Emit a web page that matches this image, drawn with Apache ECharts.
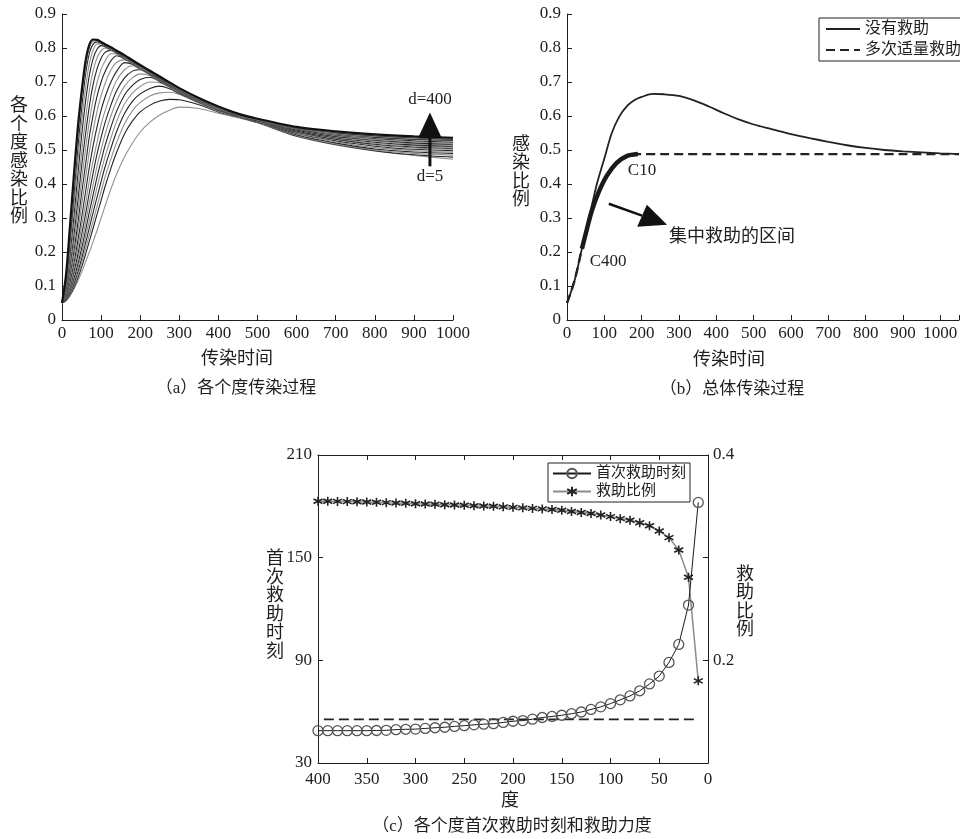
<!DOCTYPE html>
<html><head><meta charset="utf-8">
<script src="https://cdn.jsdelivr.net/npm/echarts/dist/echarts.min.js"></script>
<style>html,body{margin:0;padding:0;background:#fff}#c{width:960px;height:839px}</style>
</head><body><div id="c"></div>
<script>
// ---------- (a) infection ratio of each degree ----------
const timeGrid = [0,10,20,30,40,50,60,70,80,90,100,110,125,140,160,180,200,225,250,275,300,350,400,450,500,600,700,800,900,1000];
const degreeNames = ['d=400','d=350','d=300','d=260','d=220','d=190','d=160','d=140','d=120','d=100','d=85','d=70','d=60','d=50','d=40','d=30','d=22','d=15','d=10','d=5'];
const degreeCurves = [
 [0.05,0.13,0.27,0.42,0.56,0.67,0.76,0.81,0.825,0.824,0.818,0.811,0.802,0.792,0.779,0.764,0.750,0.733,0.716,0.699,0.682,0.653,0.628,0.607,0.592,0.568,0.555,0.546,0.540,0.536],
 [0.05,0.12,0.25,0.39,0.53,0.65,0.74,0.80,0.82,0.821,0.816,0.810,0.801,0.791,0.778,0.763,0.749,0.732,0.715,0.698,0.681,0.652,0.627,0.607,0.591,0.567,0.553,0.544,0.538,0.534],
 [0.05,0.11,0.23,0.36,0.50,0.62,0.72,0.785,0.812,0.818,0.814,0.808,0.800,0.790,0.777,0.762,0.748,0.731,0.714,0.697,0.681,0.652,0.627,0.606,0.591,0.566,0.551,0.542,0.536,0.532],
 [0.05,0.10,0.21,0.33,0.46,0.58,0.68,0.755,0.795,0.812,0.812,0.806,0.798,0.789,0.776,0.761,0.747,0.730,0.713,0.697,0.680,0.651,0.626,0.606,0.590,0.565,0.549,0.540,0.534,0.530],
 [0.05,0.095,0.19,0.30,0.42,0.54,0.64,0.72,0.77,0.797,0.807,0.804,0.796,0.787,0.774,0.760,0.746,0.729,0.712,0.696,0.680,0.651,0.626,0.606,0.590,0.564,0.548,0.538,0.532,0.528],
 [0.05,0.09,0.17,0.27,0.38,0.49,0.59,0.675,0.735,0.772,0.792,0.800,0.794,0.785,0.772,0.758,0.744,0.728,0.711,0.695,0.679,0.650,0.625,0.605,0.589,0.563,0.546,0.536,0.530,0.526],
 [0.05,0.085,0.155,0.245,0.345,0.45,0.545,0.63,0.695,0.74,0.77,0.787,0.793,0.784,0.771,0.757,0.743,0.727,0.710,0.694,0.678,0.650,0.625,0.605,0.589,0.562,0.544,0.534,0.527,0.523],
 [0.05,0.08,0.14,0.22,0.31,0.41,0.50,0.585,0.65,0.70,0.737,0.762,0.783,0.783,0.770,0.756,0.742,0.726,0.709,0.693,0.677,0.649,0.624,0.604,0.588,0.561,0.542,0.531,0.524,0.520],
 [0.05,0.078,0.13,0.20,0.28,0.37,0.455,0.54,0.605,0.66,0.70,0.73,0.762,0.777,0.768,0.755,0.741,0.725,0.708,0.692,0.676,0.648,0.624,0.604,0.588,0.559,0.540,0.529,0.521,0.517],
 [0.05,0.075,0.12,0.18,0.255,0.335,0.415,0.495,0.56,0.615,0.66,0.695,0.735,0.758,0.765,0.754,0.740,0.724,0.707,0.691,0.675,0.647,0.623,0.604,0.588,0.558,0.538,0.526,0.518,0.514],
 [0.05,0.072,0.11,0.165,0.23,0.30,0.375,0.45,0.515,0.57,0.617,0.655,0.70,0.732,0.757,0.752,0.739,0.723,0.706,0.690,0.674,0.646,0.622,0.603,0.587,0.556,0.536,0.523,0.515,0.511],
 [0.05,0.07,0.10,0.15,0.21,0.275,0.34,0.41,0.47,0.525,0.575,0.615,0.665,0.705,0.736,0.748,0.737,0.722,0.705,0.689,0.673,0.645,0.621,0.603,0.587,0.555,0.534,0.520,0.512,0.508],
 [0.05,0.068,0.095,0.14,0.19,0.25,0.31,0.375,0.435,0.49,0.537,0.58,0.632,0.675,0.712,0.732,0.736,0.721,0.704,0.688,0.672,0.644,0.620,0.602,0.586,0.553,0.532,0.517,0.509,0.505],
 [0.05,0.066,0.09,0.13,0.175,0.228,0.285,0.345,0.40,0.455,0.50,0.545,0.60,0.645,0.688,0.712,0.724,0.719,0.703,0.687,0.671,0.643,0.619,0.601,0.585,0.551,0.530,0.514,0.506,0.502],
 [0.05,0.064,0.087,0.12,0.162,0.21,0.262,0.318,0.37,0.422,0.468,0.512,0.567,0.615,0.662,0.69,0.707,0.714,0.701,0.686,0.670,0.642,0.618,0.600,0.584,0.549,0.527,0.511,0.502,0.498],
 [0.05,0.062,0.083,0.112,0.15,0.195,0.243,0.293,0.343,0.392,0.437,0.48,0.535,0.585,0.635,0.667,0.687,0.700,0.698,0.684,0.668,0.641,0.617,0.600,0.584,0.547,0.524,0.507,0.498,0.494],
 [0.05,0.06,0.08,0.105,0.14,0.18,0.225,0.272,0.318,0.363,0.407,0.45,0.505,0.555,0.607,0.643,0.665,0.681,0.688,0.680,0.666,0.640,0.616,0.599,0.583,0.545,0.521,0.503,0.494,0.490],
 [0.05,0.058,0.076,0.10,0.13,0.167,0.208,0.25,0.293,0.336,0.378,0.42,0.474,0.523,0.577,0.615,0.64,0.659,0.668,0.670,0.663,0.638,0.614,0.598,0.582,0.543,0.518,0.500,0.490,0.485],
 [0.05,0.057,0.073,0.095,0.122,0.155,0.192,0.232,0.272,0.312,0.352,0.392,0.446,0.494,0.548,0.585,0.612,0.632,0.644,0.649,0.648,0.633,0.612,0.597,0.581,0.541,0.516,0.498,0.486,0.479],
 [0.05,0.056,0.07,0.09,0.113,0.14,0.17,0.20,0.232,0.265,0.30,0.335,0.385,0.43,0.48,0.52,0.553,0.582,0.603,0.617,0.626,0.622,0.608,0.595,0.580,0.540,0.515,0.497,0.484,0.473]
];

// ---------- (b) overall infection ----------
const overallTime = [0,20,40,60,80,100,120,140,160,180,200,230,260,300,340,380,420,460,500,550,600,650,700,750,800,850,900,950,1000,1050];
const noRescue = [0.05,0.115,0.21,0.305,0.40,0.475,0.55,0.598,0.628,0.646,0.656,0.665,0.664,0.659,0.646,0.628,0.608,0.59,0.575,0.561,0.547,0.535,0.524,0.514,0.506,0.500,0.496,0.493,0.490,0.488];
const multiRescueTime = [0,20,40,53,66,84,106,133,160,190,1050];
const multiRescue = [0.05,0.115,0.21,0.266,0.32,0.374,0.423,0.462,0.482,0.488,0.488];
const focusStart = 40, focusEnd = 190;

// ---------- (c) first rescue time and rescue ratio per degree ----------
const degreeAxis = [400,390,380,370,360,350,340,330,320,310,300,290,280,270,260,250,240,230,220,210,200,190,180,170,160,150,140,130,120,110,100,90,80,70,60,50,40,30,20,10];
const firstRescueTime = [48.9,48.9,48.9,48.9,48.9,48.9,49.0,49.1,49.5,49.7,49.8,50.2,50.6,50.9,51.4,51.8,52.3,52.7,53.0,53.7,54.4,54.8,55.6,56.6,57.2,57.9,58.8,59.8,61.3,62.8,64.7,66.9,69.2,72.2,76.2,80.8,88.8,99.3,122.3,182.3];
const rescueRatio = [0.355,0.355,0.3548,0.3546,0.3544,0.3542,0.354,0.3536,0.3533,0.353,0.3526,0.3523,0.352,0.3516,0.3513,0.351,0.3506,0.3503,0.350,0.3495,0.349,0.3485,0.348,0.3475,0.347,0.3462,0.345,0.344,0.343,0.3415,0.340,0.338,0.3365,0.334,0.331,0.326,0.3195,0.3075,0.281,0.180];
const thresholdDegrees = [394,13];
const thresholdTime = 55.5;

// ---------- build ----------
const SERIF = "'Liberation Serif','Noto Sans CJK SC',serif";
const CJK = "'Liberation Serif','Noto Sans CJK SC',sans-serif";
const INK = '#1e1e1e';
const tickLabel = {color: INK, fontFamily: SERIF, fontSize: 17};

function valAxis(extra) {
  return Object.assign({
    type: 'value',
    axisLine: {show: true, onZero: false, lineStyle: {color: INK, width: 1}},
    axisTick: {show: true, inside: true, length: 5, lineStyle: {color: INK}},
    splitLine: {show: false},
    axisLabel: Object.assign({}, tickLabel)
  }, extra);
}
const plain = v => String(v);

const series = [];
for (let k = degreeCurves.length - 1; k >= 0; k--) {
  const c = degreeCurves[k];
  series.push({
    name: degreeNames[k], type: 'line', xAxisIndex: 0, yAxisIndex: 0,
    data: timeGrid.map((t, i) => [t, c[i]]),
    symbol: 'none', smooth: 0.3, silent: true,
    lineStyle: {color: k === 0 ? '#111' : (k % 2 ? '#8f8f8f' : '#222'), width: k === 0 ? 2.2 : 1.1}
  });
}
series.push({
  name: '没有救助', type: 'line', xAxisIndex: 1, yAxisIndex: 1,
  data: overallTime.map((t, i) => [t, noRescue[i]]),
  symbol: 'none', smooth: 0.3, lineStyle: {color: '#222', width: 1.8}, itemStyle: {color: '#222'}
});
series.push({
  name: '多次适量救助', type: 'line', xAxisIndex: 1, yAxisIndex: 1,
  data: multiRescueTime.map((t, i) => [t, multiRescue[i]]),
  symbol: 'none', smooth: 0.3, lineStyle: {color: '#222', width: 2.4, type: [9, 5]}, itemStyle: {color: '#222'}
});
series.push({
  name: '集中救助', type: 'line', xAxisIndex: 1, yAxisIndex: 1,
  data: multiRescueTime.map((t, i) => [t, multiRescue[i]]).filter(p => p[0] >= focusStart && p[0] <= focusEnd),
  symbol: 'none', smooth: 0.3, lineStyle: {color: '#1a1a1a', width: 4.5}
});
series.push({
  name: '阈值', type: 'line', xAxisIndex: 2, yAxisIndex: 2,
  data: thresholdDegrees.map(d => [d, thresholdTime]),
  symbol: 'none', lineStyle: {color: '#222', width: 1.8, type: [10, 5]}
});
series.push({
  name: '救助比例', type: 'line', xAxisIndex: 2, yAxisIndex: 3,
  data: degreeAxis.map((d, i) => [d, rescueRatio[i]]),
  symbol: 'path://M0,-10L0,10M-8.66,-5L8.66,5M-8.66,5L8.66,-5', symbolSize: 9,
  lineStyle: {color: '#8c8c8c', width: 1.5},
  itemStyle: {color: '#222', borderColor: '#222', borderWidth: 1.6}
});
series.push({
  name: '首次救助时刻', type: 'line', xAxisIndex: 2, yAxisIndex: 2,
  data: degreeAxis.map((d, i) => [d, firstRescueTime[i]]),
  symbol: 'circle', symbolSize: 10,
  lineStyle: {color: '#1a1a1a', width: 1},
  itemStyle: {color: 'rgba(255,255,255,0)', borderColor: '#555', borderWidth: 1.3}
});

const option = {
  animation: false,
  backgroundColor: '#fff',
  textStyle: {fontFamily: CJK},
  grid: [
    {left: 62, top: 14, width: 391, height: 306, outerBoundsMode: 'none'},
    {left: 567, top: 14, width: 392, height: 306, outerBoundsMode: 'none'},
    {left: 318, top: 455, width: 390, height: 308, outerBoundsMode: 'none'}
  ],
  xAxis: [
    valAxis({gridIndex: 0, min: 0, max: 1000, interval: 100, axisLabel: Object.assign({}, tickLabel, {margin: 5, formatter: plain})}),
    valAxis({gridIndex: 1, min: 0, max: 1050, interval: 100,
      axisLabel: Object.assign({}, tickLabel, {margin: 5, formatter: v => (v % 100 === 0 ? String(v) : '')})}),
    valAxis({gridIndex: 2, min: 0, max: 400, interval: 50, inverse: true, axisLabel: Object.assign({}, tickLabel, {margin: 8, formatter: plain})}),
    valAxis({gridIndex: 2, min: 0, max: 400, interval: 50, inverse: true, position: 'top', axisLabel: {show: false}})
  ],
  yAxis: [
    valAxis({gridIndex: 0, min: 0, max: 0.9, interval: 0.1, axisLabel: Object.assign({}, tickLabel, {margin: 6})}),
    valAxis({gridIndex: 1, min: 0, max: 0.9, interval: 0.1, axisLabel: Object.assign({}, tickLabel, {margin: 6})}),
    valAxis({gridIndex: 2, min: 30, max: 210, interval: 60, axisLabel: Object.assign({}, tickLabel, {margin: 6})}),
    valAxis({gridIndex: 2, min: 0.1, max: 0.4, interval: 0.1, position: 'right',
      axisLabel: Object.assign({}, tickLabel, {margin: 5,
        formatter: v => (Math.abs(v - 0.4) < 1e-6 ? '0.4' : (Math.abs(v - 0.2) < 1e-6 ? '0.2' : ''))})})
  ],
  legend: [
    {data: ['没有救助', '多次适量救助'], orient: 'vertical', left: 819, top: 18,
     itemWidth: 34, itemHeight: 14, itemGap: 5, padding: [3, 2, 3, 6],
     borderColor: '#222', borderWidth: 1, backgroundColor: '#fff',
     itemStyle: {opacity: 0},
     textStyle: {fontFamily: CJK, fontSize: 16, color: INK}, selectedMode: false},
    {data: ['首次救助时刻', '救助比例'], orient: 'vertical', left: 548, top: 463,
     itemWidth: 38, itemHeight: 12, itemGap: 3, padding: [3, 4, 3, 4],
     borderColor: '#222', borderWidth: 1, backgroundColor: '#fff',
     textStyle: {fontFamily: CJK, fontSize: 15, color: INK}, selectedMode: false}
  ],
  series: series
};

const chart = echarts.init(document.getElementById('c'));
chart.setOption(option);

function P(g, x, y) { return chart.convertToPixel({xAxisIndex: g, yAxisIndex: g}, [x, y]); }
function txt(x, y, text, size, font, extra) {
  return Object.assign({type: 'text', x: x, y: y, silent: true, z: 100,
    style: {text: text, fill: INK, font: size + 'px ' + font, fontSize: size, fontFamily: font,
      align: 'center', verticalAlign: 'middle', textAlign: 'center', textVerticalAlign: 'middle'}}, extra || {});
}
function vtxt(x, y, text, size) {
  const t = txt(x, y, text.split('').join('\n'), size, CJK);
  t.style.lineHeight = size + 0.5;
  return t;
}
// annotation anchors in data coordinates
const aTip = P(0, 941, 0.61), aL = P(0, 911, 0.536), aR = P(0, 971, 0.536), aBot = P(0, 941, 0.452);
const aTop = P(0, 941, 0.649), aLow = P(0, 941, 0.423);
const bS = P(1, 112, 0.342), bM = P(1, 201, 0.307), bTip = P(1, 268, 0.28), bC1 = P(1, 214, 0.339), bC2 = P(1, 188, 0.274);
const c10 = P(1, 201, 0.44), c400 = P(1, 110, 0.171), cText = P(1, 442, 0.243);

const graphics = [
  {type: 'polygon', shape: {points: [aTip, aL, aR]}, style: {fill: '#111'}, z: 100, silent: true},
  {type: 'line', shape: {x1: aTip[0], y1: aL[1] - 2, x2: aBot[0], y2: aBot[1]}, style: {stroke: '#111', lineWidth: 3}, z: 100, silent: true},
  txt(aTop[0], aTop[1], 'd=400', 17, SERIF),
  txt(aLow[0], aLow[1], 'd=5', 17, SERIF),
  {type: 'line', shape: {x1: bS[0], y1: bS[1], x2: bM[0], y2: bM[1]}, style: {stroke: '#111', lineWidth: 2.5}, z: 100, silent: true},
  {type: 'polygon', shape: {points: [bTip, bC1, bC2]}, style: {fill: '#111'}, z: 100, silent: true},
  txt(c10[0], c10[1], 'C10', 17, SERIF),
  txt(c400[0], c400[1], 'C400', 17, SERIF),
  txt(cText[0], cText[1], '集中救助的区间', 18, CJK),
  // axis names
  txt(237, 359, '传染时间', 18, CJK),
  txt(729, 360, '传染时间', 18, CJK),
  txt(510, 801, '度', 18, CJK),
  vtxt(19, 162, '各个度感染比例', 18),
  vtxt(521, 173, '感染比例', 18),
  vtxt(275, 606, '首次救助时刻', 18),
  vtxt(745, 603, '救助比例', 18),
  // captions
  txt(236, 389, '（a）各个度传染过程', 17, CJK),
  txt(732, 390, '（b）总体传染过程', 17, CJK),
  txt(512, 827, '（c）各个度首次救助时刻和救助力度', 17, CJK)
];
chart.setOption({graphic: graphics});
</script></body></html>
